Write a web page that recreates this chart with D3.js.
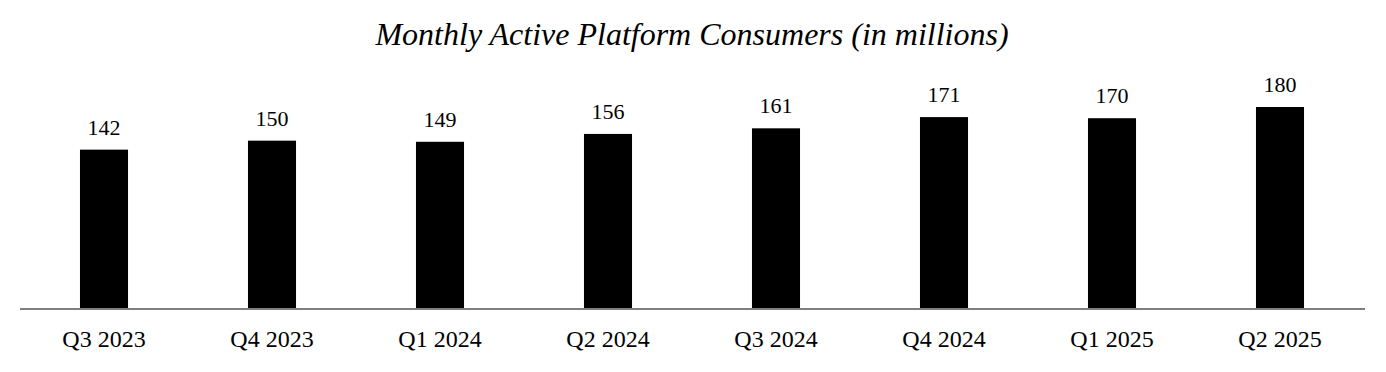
<!DOCTYPE html>
<html><head><meta charset="utf-8">
<script src="https://cdn.jsdelivr.net/npm/d3@7"></script>
<style>
html,body{margin:0;padding:0;background:#fff;}
svg{display:block;}
text{font-family:"Liberation Serif","Times New Roman",serif;fill:#000;}
</style></head>
<body>
<svg id="chart" width="1386" height="372"></svg>
<script>
const categories = ["Q3 2023","Q4 2023","Q1 2024","Q2 2024","Q3 2024","Q4 2024","Q1 2025","Q2 2025"];
const values = [142,150,149,156,161,171,170,180];
const title = "Monthly Active Platform Consumers (in millions)";

const W = 1386, H = 372;
const svg = d3.select("#chart");
const x = d3.scaleBand().domain(categories).range([20, 1364]).paddingInner(0.714).paddingOuter(0.357);
const y = d3.scaleLinear().domain([0, 180]).range([309, 107]);

svg.append("text").attr("x", 692).attr("y", 45).attr("text-anchor","middle")
  .style("font-size","32px").style("font-style","italic").text(title);

svg.selectAll("rect.bar").data(values).join("rect").attr("class","bar")
  .attr("x",(d,i)=>x(categories[i])).attr("width",x.bandwidth())
  .attr("y",d=>y(d)).attr("height",d=>y(0)-y(d)).attr("fill","#000");

svg.selectAll("text.val").data(values).join("text").attr("class","val")
  .attr("x",(d,i)=>x(categories[i])+x.bandwidth()/2).attr("y",d=>y(d)-15)
  .attr("text-anchor","middle").style("font-size","22px").text(d=>d);

const axis = d3.axisBottom(x).tickSize(0).tickPadding(21);
const g = svg.append("g").attr("transform",`translate(0,${y(0)})`).call(axis);
g.select(".domain").attr("stroke","#7f7f7f").attr("stroke-width",2).attr("d","M20,0H1365");
g.selectAll(".tick text").style("font-family",'"Liberation Serif","Times New Roman",serif')
  .style("font-size","24px").attr("fill","#000");
</script>
</body></html>
